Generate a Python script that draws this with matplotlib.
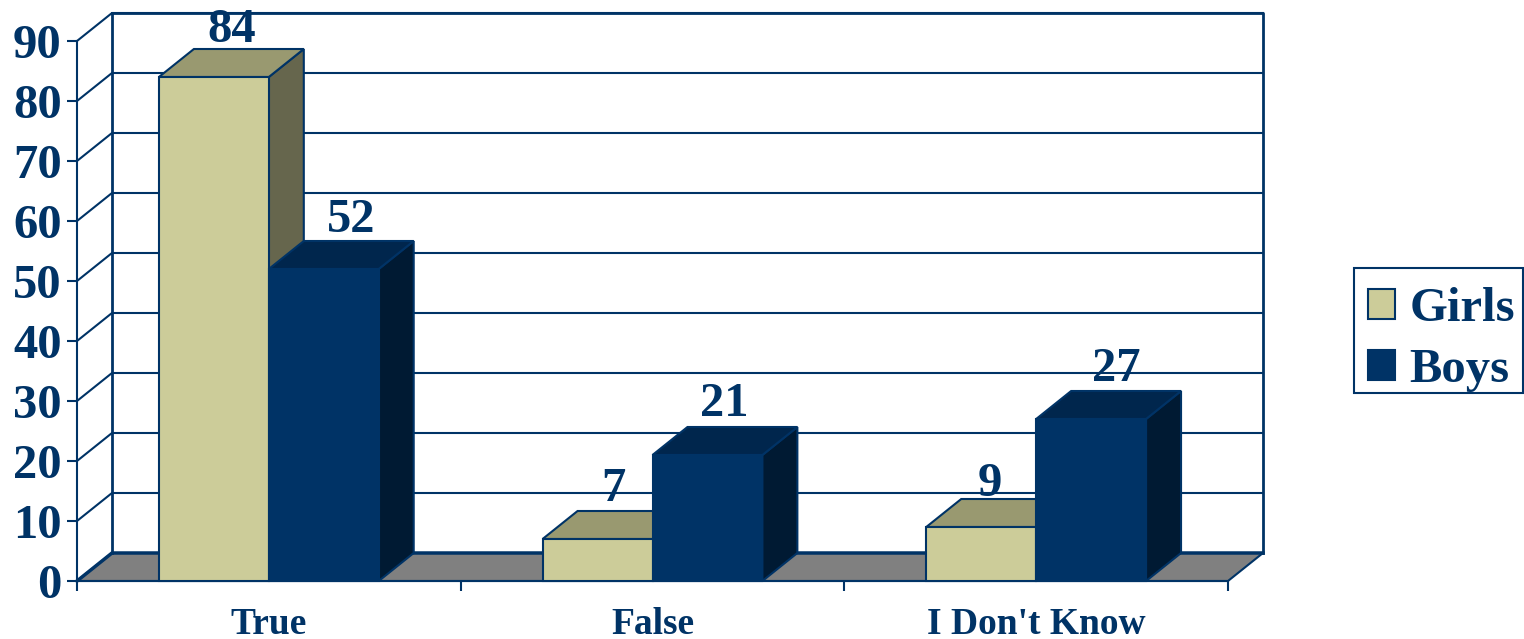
"""3D-look clustered bars (Girls vs Boys), drawn on a flat axes with polygons for the depth."""
import matplotlib
matplotlib.use("Agg")
import matplotlib.pyplot as plt
from matplotlib.patches import Polygon, Patch, Rectangle

categories = ["True", "False", "I Don't Know"]
series_names = ["Girls", "Boys"]
girls = [84, 7, 9]
boys = [52, 21, 27]
y_ticks = list(range(0, 100, 10))

NAVY = "#003366"
FACES = {
    "Girls": ("#CCCC99", "#999970", "#66664D"),
    "Boys": ("#003366", "#00264D", "#001A33"),
}
BW = 110 / 384     # bar width, category units
DX = 35 / 384      # depth offset in x
DY = 28 / 6        # depth offset in y
# hand placed value labels, (x, y) pixel nudges per category
GIRLS_NUDGE = [(-3, -2), (-5, 1), (-12, -6)]
BOYS_NUDGE = [(6, 0), (-4, 2), (4, 1)]

W, H = 1524, 639
fig = plt.figure(figsize=(W / 100, H / 100), dpi=100)
ax = fig.add_axes([77 / W, 1 - 581 / H, (1228 - 77) / W, 540 / H])
ax.set_xlim(0, 3)
ax.set_ylim(0, 90)
ax.patch.set_visible(False)
for s in ["top", "right"]:
    ax.spines[s].set_visible(False)
for s in ["left", "bottom"]:
    ax.spines[s].set_color(NAVY)
    ax.spines[s].set_linewidth(1.5)


def poly(pts, fc, z, lw=1.5):
    ax.add_patch(Polygon(pts, closed=True, facecolor=fc, edgecolor=NAVY, lw=lw,
                         joinstyle="miter", zorder=z, clip_on=False))


# floor and back wall
poly([(0, 0), (3, 0), (3 + DX, DY), (DX, DY)], "#808080", 1)
ax.plot([DX, 3 + DX, 3 + DX], [90 + DY, 90 + DY, DY], color=NAVY, lw=2, zorder=1, clip_on=False)
ax.plot([DX, DX], [DY, 90 + DY], color=NAVY, lw=2, zorder=1, clip_on=False)
for t in y_ticks:
    if t > 0:
        ax.plot([0, DX, 3 + DX], [t, t + DY, t + DY], color=NAVY, lw=1.5, zorder=1, clip_on=False)
    else:
        ax.plot([0, DX, 3 + DX], [t, t + DY, t + DY], color=NAVY, lw=2.5, zorder=2, clip_on=False)


def bar3d(x0, v, name, z, nudge):
    front, top, side = FACES[name]
    x1 = x0 + BW
    poly([(x1, 0), (x1 + DX, DY), (x1 + DX, v + DY), (x1, v)], side, z)
    poly([(x0, v), (x1, v), (x1 + DX, v + DY), (x0 + DX, v + DY)], top, z)
    poly([(x0, 0), (x1, 0), (x1, v), (x0, v)], front, z)
    ax.annotate(str(v), (x0 + BW / 2 + DX * 0.6, v + DY + 1.5),
                xytext=(nudge[0] * 0.72, nudge[1] * 0.72), textcoords="offset points",
                ha="center", va="baseline", fontsize=35, fontweight="bold", color=NAVY,
                family="Liberation Serif", zorder=10, annotation_clip=False)


for i in range(len(categories)):
    bar3d(i + 0.5 - BW, girls[i], "Girls", 3 + i * 2, GIRLS_NUDGE[i])
    bar3d(i + 0.5, boys[i], "Boys", 4 + i * 2, BOYS_NUDGE[i])

ax.set_yticks(y_ticks)
ax.set_xticks([0, 1, 2, 3])
ax.set_xticklabels([])
ax.tick_params(axis="both", color=NAVY, width=1.5, length=7)
for lab in ax.get_yticklabels():
    lab.set(fontsize=35, fontweight="bold", color=NAVY, family="Liberation Serif")
ax.tick_params(axis="y", pad=4)
for i, c in enumerate(categories):
    ax.annotate(c, (i + 0.5, 0), xytext=(0, -38), textcoords="offset points", ha="center", va="baseline",
                fontsize=27, fontweight="bold", color=NAVY, family="Liberation Serif",
                annotation_clip=False)

# legend box drawn apart from the entries so the text can sit low in it
fig.add_artist(Rectangle((1354 / W, 1 - 393 / H), 169 / W, 125 / H, transform=fig.transFigure,
                         facecolor="white", edgecolor=NAVY, lw=1.5))
handles = [Patch(facecolor=FACES[n][0], edgecolor=NAVY, lw=1.5) for n in series_names]
leg = fig.legend(handles, series_names, loc="upper left", bbox_to_anchor=(1368 / W, 1 - 287 / H),
                 borderaxespad=0, frameon=False,
                 prop={"family": "Liberation Serif", "weight": "bold", "size": 35},
                 labelcolor=NAVY, handlelength=0.56, handleheight=0.56, handletextpad=0.29,
                 labelspacing=0.35, borderpad=0)

fig.savefig("out.png", dpi=100)
